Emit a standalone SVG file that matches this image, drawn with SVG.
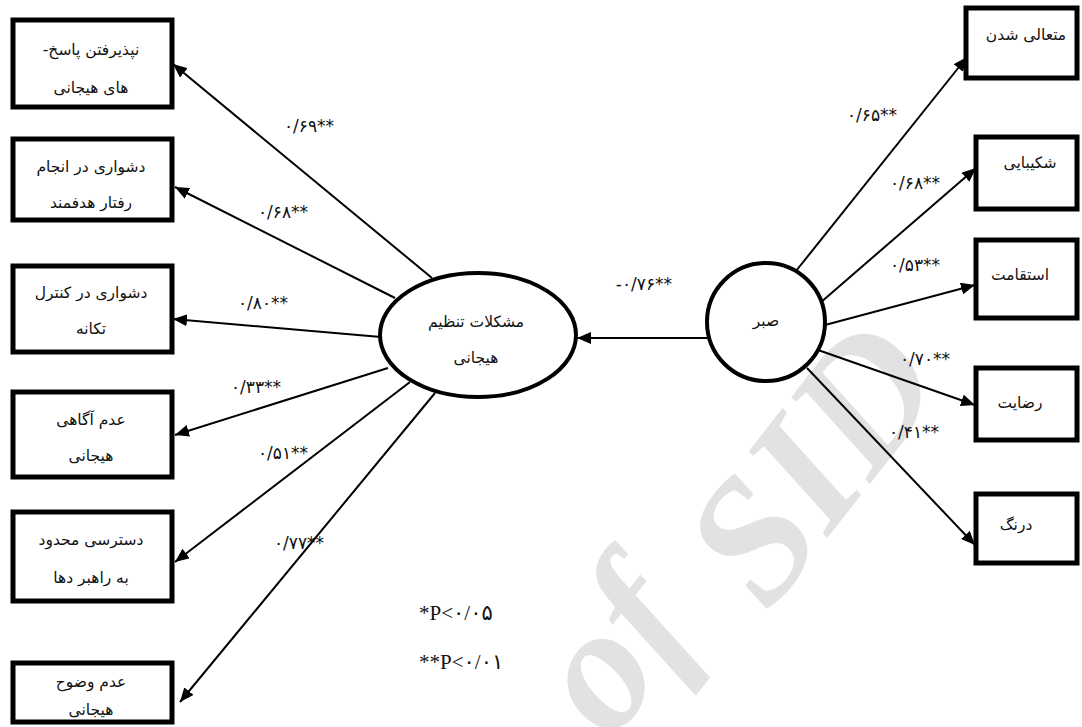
<svg xmlns="http://www.w3.org/2000/svg" width="1082" height="727" viewBox="0 0 1082 727">
<style>
.box{fill:#fff;stroke:#000;stroke-width:5}
.lat{fill:#fff;stroke:#000;stroke-width:4}
.t{font-family:"DejaVu Sans",sans-serif;font-size:15.5px;fill:#111;text-anchor:middle;direction:rtl}
.n{font-family:"DejaVu Sans",sans-serif;font-size:17px;fill:#111;text-anchor:middle;direction:ltr}
.lg{font-family:"Liberation Serif","DejaVu Sans",serif;font-size:21px;fill:#111;direction:ltr}
.wm{font-family:"Liberation Serif",serif;font-weight:bold;font-style:italic;font-size:176px;fill:#e2e2e2}
.c{stroke:#000;stroke-width:2;fill:none;marker-end:url(#ah)}
</style>
<defs>
<marker id="ah" markerUnits="userSpaceOnUse" markerWidth="15" markerHeight="12" refX="14" refY="6" orient="auto">
<path d="M0,0 L14,6 L0,12 z" fill="#000"/>
</marker>
</defs>
<rect width="1082" height="727" fill="#fff"/>
<g id="watermark">
<text class="wm" transform="translate(768,614) rotate(-52)">SID</text>
<text class="wm" transform="translate(612,742) rotate(-52)">of</text>
</g>
<g id="connectors">
<line class="c" x1="432" y1="278" x2="173" y2="64"/>
<line class="c" x1="395" y1="298" x2="175" y2="187"/>
<line class="c" x1="381" y1="337" x2="173" y2="319"/>
<line class="c" x1="388" y1="368" x2="175" y2="435"/>
<line class="c" x1="410" y1="382" x2="175" y2="562"/>
<line class="c" x1="435" y1="393" x2="180" y2="702"/>
<line class="c" x1="707" y1="338" x2="577" y2="338"/>
<line class="c" x1="796" y1="271" x2="967" y2="57"/>
<line class="c" x1="820" y1="303" x2="976" y2="168"/>
<line class="c" x1="825" y1="325" x2="975" y2="285"/>
<line class="c" x1="818" y1="350" x2="975" y2="405"/>
<line class="c" x1="807" y1="368" x2="975" y2="545"/>
</g>
<g id="labels">
<text class="n" x="309" y="132">۰/۶۹**</text>
<text class="n" x="283" y="218">۰/۶۸**</text>
<text class="n" x="263" y="309">۰/۸۰**</text>
<text class="n" x="256" y="393">۰/۳۳**</text>
<text class="n" x="283" y="459">۰/۵۱**</text>
<text class="n" x="299" y="549">۰/۷۷**</text>
<text class="n" x="644" y="290">-۰/۷۶**</text>
<text class="n" x="872" y="121">۰/۶۵**</text>
<text class="n" x="915" y="189">۰/۶۸**</text>
<text class="n" x="915" y="271">۰/۵۳**</text>
<text class="n" x="925" y="365">۰/۷۰**</text>
<text class="n" x="914" y="438">۰/۴۱**</text>
</g>
<g id="legend">
<text class="lg" x="419" y="620">*P&lt;۰/۰۵</text>
<text class="lg" x="419" y="669">**P&lt;۰/۰۱</text>
</g>
<g id="node-l1"><rect class="box" x="13" y="20" width="159" height="87"/><text class="t" x="91" y="55">نپذیرفتن پاسخ-</text><text class="t" x="91" y="93">های هیجانی</text></g>
<g id="node-l2"><rect class="box" x="13" y="139" width="159" height="81"/><text class="t" x="91" y="172">دشواری در انجام</text><text class="t" x="91" y="208">رفتار هدفمند</text></g>
<g id="node-l3"><rect class="box" x="13" y="266" width="159" height="86"/><text class="t" x="91" y="298">دشواری در کنترل</text><text class="t" x="91" y="334">تکانه</text></g>
<g id="node-l4"><rect class="box" x="13" y="392" width="159" height="85"/><text class="t" x="91" y="425">عدم آگاهی</text><text class="t" x="91" y="461">هیجانی</text></g>
<g id="node-l5"><rect class="box" x="13" y="512" width="159" height="89"/><text class="t" x="91" y="545">دسترسی محدود</text><text class="t" x="91" y="583">به راهبر دها</text></g>
<g id="node-l6"><rect class="box" x="13" y="663" width="159" height="59"/><text class="t" x="91" y="687">عدم وضوح</text><text class="t" x="91" y="715">هیجانی</text></g>
<g id="node-emo"><ellipse class="lat" cx="478" cy="335" rx="98" ry="62"/><text class="t" x="476" y="327">مشکلات تنظیم</text><text class="t" x="476" y="363">هیجانی</text></g>
<g id="node-sabr"><circle class="lat" cx="766" cy="322" r="59"/><text class="t" x="766" y="326">صبر</text></g>
<g id="node-r1"><rect class="box" x="966" y="8" width="111" height="70"/><text class="t" x="1026" y="40">متعالی شدن</text></g>
<g id="node-r2"><rect class="box" x="976" y="137" width="101" height="72"/><text class="t" x="1030" y="168">شکیبایی</text></g>
<g id="node-r3"><rect class="box" x="976" y="240" width="101" height="78"/><text class="t" x="1020" y="280">استقامت</text></g>
<g id="node-r4"><rect class="box" x="976" y="368" width="101" height="72"/><text class="t" x="1020" y="408">رضایت</text></g>
<g id="node-r5"><rect class="box" x="976" y="494" width="101" height="69"/><text class="t" x="1016" y="530">درنگ</text></g>
</svg>
